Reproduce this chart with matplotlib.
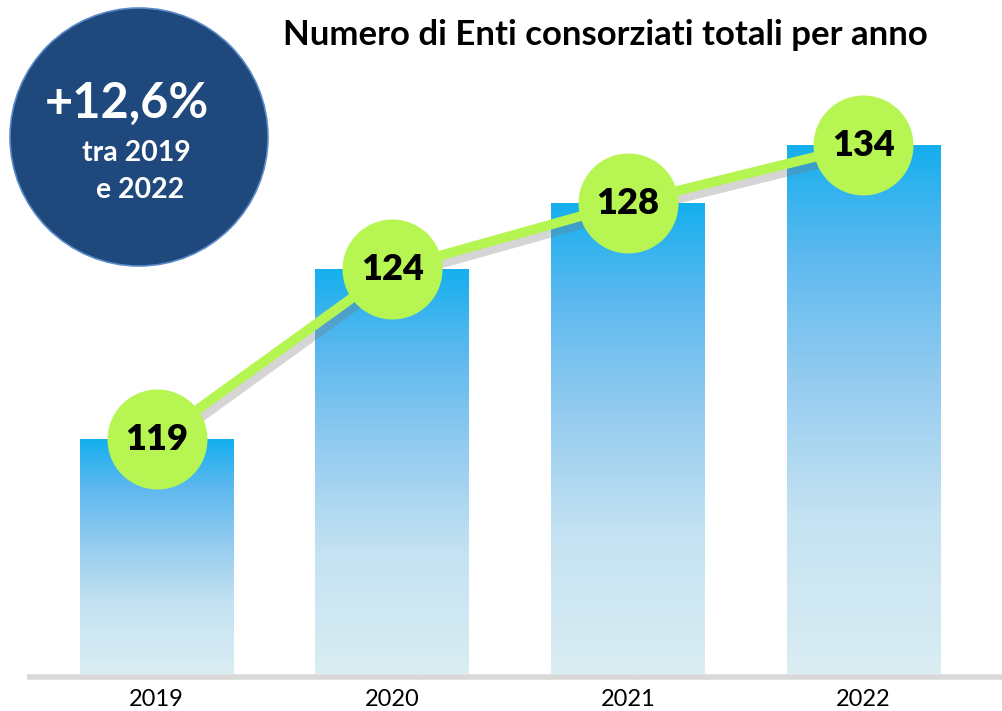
import numpy as np
import matplotlib.pyplot as plt
import matplotlib.patheffects as pe
from matplotlib.colors import LinearSegmentedColormap
from matplotlib.patches import Circle

plt.rcParams['font.family'] = ['Lato', 'DejaVu Sans']

years = ['2019', '2020', '2021', '2022']
values = [119, 124, 128, 134]
# bar heights as drawn in the original (not proportional to the values)
bar_heights = [235, 405, 471, 529]

title = 'Numero di Enti consorziati totali per anno'
badge_lines = ['+12,6%', 'tra 2019', 'e 2022']

fig = plt.figure(figsize=(10.02, 7.11), dpi=100)
ax = fig.add_axes([0.027, 29 / 711, 0.973, 682 / 711])
ax.axis('off')

x = np.arange(len(years))
grad = LinearSegmentedColormap.from_list('bars', [
    (0.0, '#DAEDF3'), (0.3, '#C4E2F2'), (0.55, '#95CCF0'),
    (0.8, '#5BB8EF'), (1.0, '#15AFEE')])
bars = ax.bar(x, bar_heights, width=0.653, color='none', zorder=1)
g = np.linspace(0, 1, 256).reshape(-1, 1)
for b in bars:
    x0, w, h = b.get_x(), b.get_width(), b.get_height()
    im = ax.imshow(g, cmap=grad, origin='lower', aspect='auto',
                   extent=(x0, x0 + w, 0, h), zorder=1)
    im.set_clip_path(b)
ax.set_xlim(-0.550, 3.588)
ax.set_ylim(-8, 674)

ax.axhline(-3, color='#D9D9D9', lw=4, zorder=2)

ax.plot(x, bar_heights, color='#B5F551', lw=7, zorder=3,
        solid_capstyle='round',
        path_effects=[pe.SimpleLineShadow(offset=(3, -5), shadow_color='#777777', alpha=0.3),
                      pe.Normal()])
ax.scatter(x, bar_heights, s=72 ** 2, color='#B7F553', zorder=4, linewidths=0)
for xi, h, v in zip(x, bar_heights, values):
    ax.text(xi, h, str(v), ha='center', va='center', fontsize=26,
            fontweight='heavy', color='black', zorder=5)

for xi, lab in zip(x, years):
    ax.text(xi, -25, lab, ha='center', va='center', fontsize=17, color='black')

# badge and title drawn in figure pixel space
ov = fig.add_axes([0, 0, 1, 1], zorder=-1)
ov.set_xlim(0, 1002)
ov.set_ylim(711, 0)
ov.axis('off')
ov.add_patch(Circle((139, 137), 129, facecolor='#1F497D', edgecolor='#5B8AC6', lw=1.2))

fig.text(127 / 1002, 1 - 103 / 711, badge_lines[0], ha='center', va='center',
         fontsize=35, fontweight='bold', color='white')
fig.text(136 / 1002, 1 - 153 / 711, badge_lines[1], ha='center', va='center',
         fontsize=20.5, fontweight='bold', color='white')
fig.text(140 / 1002, 1 - 190 / 711, badge_lines[2], ha='center', va='center',
         fontsize=20.5, fontweight='bold', color='white')

fig.text(605 / 1002, 1 - 35 / 711, title, ha='center', va='center',
         fontsize=25, fontweight='bold', color='black')

fig.savefig('out.png', dpi=100)
